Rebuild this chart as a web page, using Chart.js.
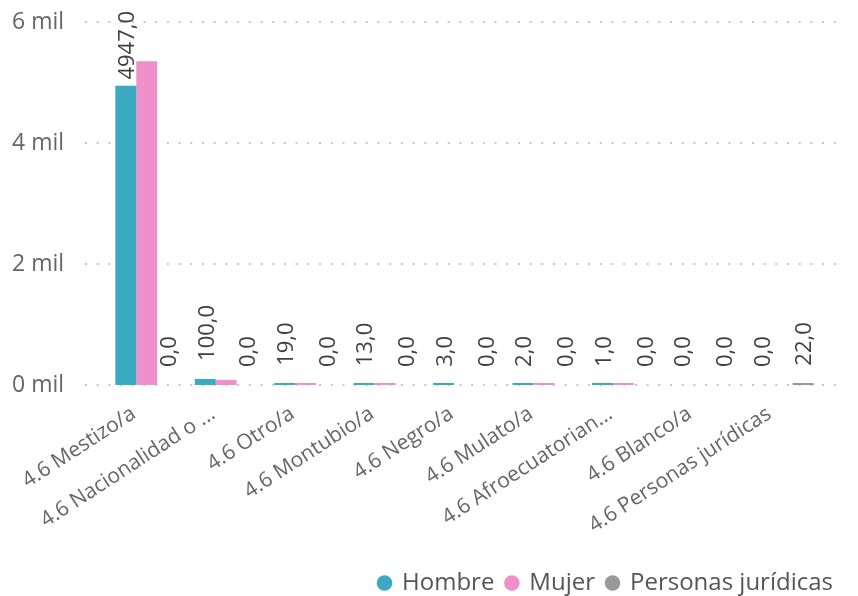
<!DOCTYPE html>
<html>
<head>
<meta charset="utf-8">
<script src="https://cdn.jsdelivr.net/npm/chart.js@4/dist/chart.umd.min.js"></script>
<style>
  html, body { margin: 0; padding: 0; background: #fff; }
  #wrap { width: 858px; height: 596px; position: relative; }
</style>
</head>
<body>
<div id="wrap"><canvas id="c"></canvas></div>
<script>
const categories = [
  "4.6 Mestizo/a",
  "4.6 Nacionalidad o ...",
  "4.6 Otro/a",
  "4.6 Montubio/a",
  "4.6 Negro/a",
  "4.6 Mulato/a",
  "4.6 Afroecuatorian...",
  "4.6 Blanco/a",
  "4.6 Personas jurídicas"
];
const hombre = [4947, 100, 19, 13, 3, 2, 1, 0, 0];
const mujer = [5350, 85, 18, 12, 0, 2, 1, 0, 0];
const personasJuridicas = [0, 0, 0, 0, 0, 0, 0, 0, 22];
const yTicks = [0, 2000, 4000, 6000];
const seriesNames = ["Hombre", "Mujer", "Personas jurídicas"];
const seriesColors = ["#3BA9C2", "#EE90CA", "#999999"];

const FONT = "'Open Sans', 'Noto Sans', sans-serif";

const gridPlugin = {
  id: 'dotGrid',
  beforeDatasetsDraw(chart) {
    const ctx = chart.ctx;
    const y = chart.scales.y;
    ctx.save();
    ctx.strokeStyle = '#c8c8c8';
    ctx.lineWidth = 2;
    ctx.setLineDash([2, 9.7]);
    yTicks.forEach(v => {
      const py = Math.round(y.getPixelForValue(v));
      ctx.beginPath();
      ctx.moveTo(85, py);
      ctx.lineTo(845, py);
      ctx.stroke();
    });
    ctx.restore();
  }
};

// Power BI keeps tiny non-zero bars visible with a minimum height
const minBarPlugin = {
  id: 'minBar',
  afterDatasetsDraw(chart) {
    const ctx = chart.ctx;
    ctx.save();
    chart.data.datasets.forEach((ds, di) => {
      const meta = chart.getDatasetMeta(di);
      meta.data.forEach((bar, i) => {
        const v = ds.data[i];
        if (v > 0 && (bar.base - bar.y) < 2) {
          ctx.fillStyle = ds.backgroundColor;
          ctx.fillRect(bar.x - bar.width / 2, bar.base - 2, bar.width, 2);
        }
      });
    });
    ctx.restore();
  }
};

const labelPlugin = {
  id: 'barLabels',
  afterDatasetsDraw(chart) {
    const ctx = chart.ctx;
    ctx.save();
    ctx.font = "22px " + FONT;
    ctx.fillStyle = '#404040';
    ctx.textAlign = 'left';
    ctx.textBaseline = 'middle';
    [0, 2].forEach(di => {
      const meta = chart.getDatasetMeta(di);
      meta.data.forEach((bar, i) => {
        const v = chart.data.datasets[di].data[i];
        const txt = v.toFixed(1).replace('.', ',');
        const w = ctx.measureText(txt).width;
        let base = bar.y - 18;
        if (base - w < 11) base = 11 + w;
        ctx.save();
        ctx.translate(bar.x + 2, base);
        ctx.rotate(-Math.PI / 2);
        ctx.fillText(txt, 0, 0);
        ctx.restore();
      });
    });
    ctx.restore();
  }
};

// category labels, rotated and anchored like Power BI (right end just left of the category centre)
const xLabelPlugin = {
  id: 'xLabels',
  afterDraw(chart) {
    const ctx = chart.ctx;
    const xs = chart.scales.x;
    const y0 = chart.scales.y.getPixelForValue(0);
    ctx.save();
    ctx.font = "21px " + FONT;
    ctx.fillStyle = '#666666';
    ctx.textAlign = 'right';
    ctx.textBaseline = 'middle';
    chart.data.labels.forEach((lab, i) => {
      const px = xs.getPixelForValue(i);
      ctx.save();
      ctx.translate(px - 13, y0 + 27);
      ctx.rotate(-33 * Math.PI / 180);
      ctx.fillText(lab, 0, 0);
      ctx.restore();
    });
    ctx.restore();
  }
};

new Chart(document.getElementById('c'), {
  type: 'bar',
  data: {
    labels: categories,
    datasets: [
      { label: seriesNames[0], data: hombre, backgroundColor: seriesColors[0] },
      { label: seriesNames[1], data: mujer, backgroundColor: seriesColors[1] },
      { label: seriesNames[2], data: personasJuridicas, backgroundColor: seriesColors[2] }
    ]
  },
  options: {
    responsive: true,
    maintainAspectRatio: false,
    animation: false,
    layout: { padding: { left: 12, right: 13, top: 22, bottom: -9 } },
    datasets: { bar: { categoryPercentage: 0.79, barPercentage: 1.0, borderWidth: 0 } },
    plugins: {
      legend: {
        position: 'bottom',
        align: 'end',
        labels: {
          usePointStyle: true,
          pointStyle: 'circle',
          boxWidth: 11,
          boxHeight: 11,
          padding: 12,
          color: '#555555',
          font: { family: FONT, size: 24 }
        }
      },
      tooltip: { enabled: false }
    },
    scales: {
      x: {
        grid: { display: false, drawTicks: false },
        border: { display: false },
        ticks: { display: false, autoSkip: false },
        afterFit(scale) { scale.height = 174; }
      },
      y: {
        min: 0,
        max: 6000,
        afterBuildTicks(scale) { scale.ticks = yTicks.map(v => ({ value: v })); },
        grid: { display: false, drawTicks: false },
        border: { display: false },
        ticks: {
          crossAlign: 'far',
          color: '#666666',
          font: { family: FONT, size: 23 },
          callback: v => (v / 1000) + ' mil'
        },
        afterFit(scale) { scale.width = 95; }
      },
      y2: {
        position: 'right',
        display: true,
        grid: { display: false, drawTicks: false },
        border: { display: false },
        ticks: { display: false },
        afterFit(scale) { scale.width = 23; }
      }
    }
  },
  plugins: [gridPlugin, minBarPlugin, labelPlugin, xLabelPlugin]
});
</script>
</body>
</html>
